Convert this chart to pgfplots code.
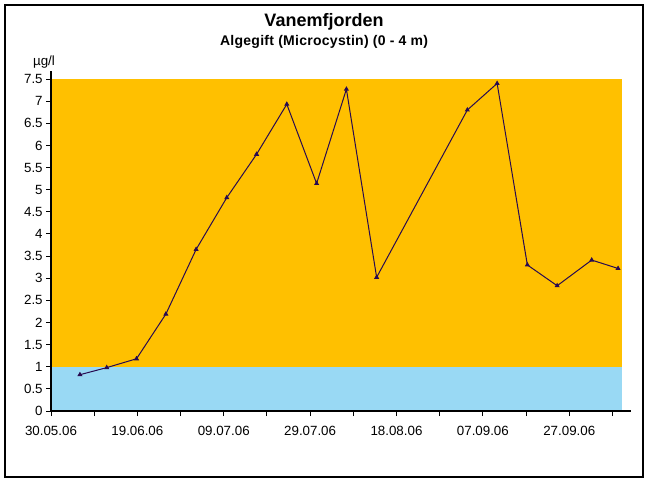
\documentclass[border=0pt]{standalone}
\usepackage{pgfplots}
\pgfplotsset{compat=1.18}
\usepackage{fontspec}
\setmainfont{Liberation Sans}
\definecolor{skyb}{RGB}{153,217,244}
\definecolor{orng}{RGB}{255,192,0}
\definecolor{linec}{RGB}{40,10,80}
\pgfplotstableread{
day val
6.7 0.82
12.9 0.98
19.8 1.18
26.6 2.19
33.6 3.65
40.7 4.82
47.6 5.80
54.6 6.93
61.5 5.14
68.4 7.27
75.4 3.02
96.4 6.80
103.3 7.40
110.3 3.30
117.2 2.83
125.2 3.41
131.3 3.22
}\datatable
\begin{document}
\begin{tikzpicture}
\useasboundingbox (0,0) rectangle (486pt,361.5pt);
\draw[line width=1.5pt] (3.75pt,3.75pt) rectangle (482.25pt,357.75pt);
\node[anchor=base, font=\fontsize{13.5}{16}\selectfont\bfseries] at (243pt,341.5pt) {Vanemfjorden};
\node[anchor=base, font=\fontsize{10.5}{12}\selectfont\bfseries\addfontfeatures{LetterSpace=2}] at (243pt,327pt) {Algegift (Microcystin) (0 - 4 m)};
\begin{axis}[
  at={(38.25pt,53.25pt)}, anchor=south west,
  scale only axis, width=435pt, height=249pt,
  xmin=0, xmax=134.3, ymin=0, ymax=7.5,
  axis lines=left,
  axis line style={-, line width=1.5pt},
  y axis line style={shorten >=-6pt},
  axis on top,
  tick align=outside,
  major tick length=3.75pt,
  tick style={black, line width=0.75pt},
  xtick={0,10,...,130},
  xticklabels={30.05.06,,19.06.06,,09.07.06,,29.07.06,,18.08.06,,07.09.06,,27.09.06,},
  ytick={0,0.5,...,7.5},
  /pgf/number format/assume math mode=true,
  /pgf/number format/fixed,
  ticklabel style={font=\fontsize{10}{12}\selectfont},
  xticklabel style={yshift=-4pt},
  yticklabel style={xshift=1pt},
  clip=false,
]
\addplot[fill=skyb, draw=none, forget plot] coordinates {(0,0) (132.2,0) (132.2,1) (0,1)} -- cycle;
\addplot[fill=orng, draw=none, forget plot] coordinates {(0,1) (132.2,1) (132.2,7.5) (0,7.5)} -- cycle;
\addplot[linec, line width=0.75pt, mark=triangle*, mark size=1.5pt, mark options={fill=linec}] table[x=day, y=val] {\datatable};
\node[anchor=base, font=\fontsize{10}{12}\selectfont] at ([xshift=-5.25pt, yshift=10pt]axis cs:0,7.5) {µg/l};
\end{axis}
\end{tikzpicture}
\end{document}
